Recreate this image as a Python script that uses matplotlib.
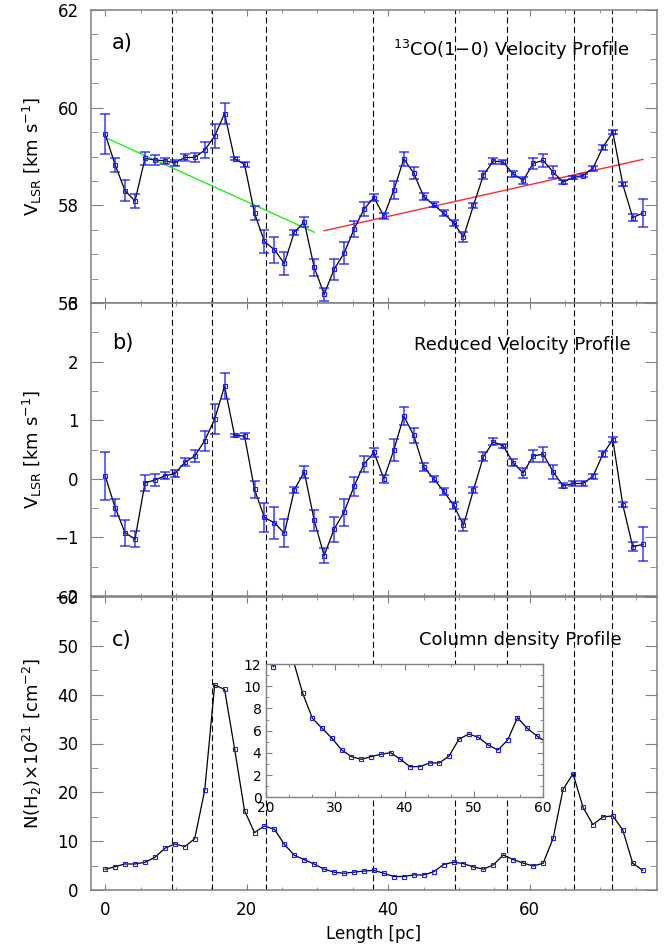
import numpy as np
import matplotlib
matplotlib.use("Agg")
import matplotlib.pyplot as plt
from matplotlib.ticker import MultipleLocator

plt.rcParams["font.family"] = ["DejaVu Sans"]
plt.rcParams["mathtext.fontset"] = "dejavusans"

# position along the filament (pc), 55 samples
length = [0.0, 1.41, 2.81, 4.22, 5.63, 7.04, 8.44, 9.85, 11.26, 12.66, 14.07,
          15.48, 16.88, 18.29, 19.7, 21.11, 22.51, 23.92, 25.33, 26.73, 28.14,
          29.55, 30.95, 32.36, 33.77, 35.18, 36.58, 37.99, 39.4, 40.8, 42.21,
          43.62, 45.02, 46.43, 47.84, 49.25, 50.65, 52.06, 53.47, 54.87, 56.28,
          57.69, 59.09, 60.5, 61.91, 63.32, 64.72, 66.13, 67.54, 68.94, 70.35,
          71.76, 73.16, 74.57, 75.98]

vlsr = [59.46, 58.83, 58.30, 58.09, 58.96, 58.93, 58.91, 58.87, 58.98, 58.98,
        59.13, 59.42, 59.88, 58.95, 58.84, 57.84, 57.26, 57.09, 56.81, 57.45,
        57.66, 56.73, 56.18, 56.69, 57.02, 57.51, 57.92, 58.16, 57.78, 58.31,
        58.95, 58.66, 58.18, 58.01, 57.84, 57.64, 57.35, 58.00, 58.62, 58.91,
        58.88, 58.64, 58.51, 58.86, 58.92, 58.68, 58.48, 58.57, 58.61, 58.76,
        59.19, 59.50, 58.43, 57.75, 57.84]

verr = [0.41, 0.14, 0.22, 0.14, 0.14, 0.11, 0.06, 0.06, 0.07, 0.10,
        0.17, 0.25, 0.22, 0.03, 0.05, 0.14, 0.24, 0.27, 0.24, 0.05,
        0.10, 0.18, 0.13, 0.21, 0.23, 0.16, 0.14, 0.08, 0.07, 0.19,
        0.15, 0.13, 0.07, 0.05, 0.06, 0.06, 0.10, 0.05, 0.08, 0.06,
        0.04, 0.06, 0.08, 0.11, 0.13, 0.12, 0.04, 0.04, 0.04, 0.05,
        0.05, 0.04, 0.04, 0.08, 0.29]

vred = [0.05, -0.49, -0.92, -1.03, -0.07, -0.02, 0.05, 0.09, 0.28, 0.39,
        0.65, 1.02, 1.58, 0.74, 0.73, -0.18, -0.66, -0.75, -0.93, -0.19,
        0.12, -0.71, -1.31, -0.86, -0.57, -0.13, 0.25, 0.45, 0.00, 0.49,
        1.07, 0.74, 0.20, 0.00, -0.21, -0.45, -0.79, -0.19, 0.38, 0.63,
        0.56, 0.27, 0.10, 0.39, 0.42, 0.12, -0.12, -0.08, -0.08, 0.04,
        0.42, 0.67, -0.44, -1.16, -1.12]

nh2 = [4.24, 4.78, 5.33, 5.33, 5.67, 6.70, 8.54, 9.43, 8.88, 10.52,
       20.4, 42.0, 41.06, 28.97, 16.26, 11.75, 13.12, 12.44, 9.36, 7.11,
       6.21, 5.31, 4.26, 3.66, 3.42, 3.66, 3.87, 4.02, 3.42, 2.76,
       2.76, 3.09, 3.09, 3.72, 5.22, 5.70, 5.40, 4.71, 4.26, 5.16,
       7.17, 6.21, 5.52, 4.92, 5.47, 10.6, 20.6, 23.8, 16.95, 13.4,
       14.97, 15.17, 12.3, 5.47, 4.03]

# linear fits to the two velocity segments (end points)
fit1_x = [0.0, 29.55]
fit1_v = [59.39, 57.45]
fit2_x = [30.95, 75.98]
fit2_v = [57.48, 58.94]

# positions of the marked features (pc)
cuts = [9.41, 15.09, 22.75, 37.9, 49.5, 56.75, 66.3, 71.7]

BLUE, GREY = "#1a1aff", "#808080"

fig = plt.figure(figsize=(6.64, 9.49), dpi=100)
L, W, H = 91 / 664, 566 / 664, 293 / 949
ax_a = fig.add_axes([L, 1 - 303 / 949, W, H])
ax_b = fig.add_axes([L, 1 - 596 / 949, W, H])
ax_c = fig.add_axes([L, 1 - 890 / 949, W, H])


def style(ax, ymaj, ymin, xlabels=False, fs=12):
    ax.set_xlim(-2, 78)
    ax.xaxis.set_major_locator(MultipleLocator(20))
    ax.xaxis.set_minor_locator(MultipleLocator(5))
    ax.yaxis.set_major_locator(MultipleLocator(ymaj))
    ax.yaxis.set_minor_locator(MultipleLocator(ymin))
    ax.tick_params(which="both", direction="in", top=True, right=True,
                   color=GREY, labelsize=fs)
    ax.tick_params(axis="x", which="major", length=4.5, pad=8)
    ax.tick_params(axis="x", which="minor", length=2.5)
    ax.tick_params(axis="y", which="major", length=8.5, pad=9)
    ax.tick_params(axis="y", which="minor", length=5)
    if not xlabels:
        ax.tick_params(axis="x", labelbottom=False)
    for s in ax.spines.values():
        s.set_color(GREY)
        s.set_linewidth(1.1)
    for c in cuts:
        ax.axvline(c, color="black", lw=0.8, ls=(0, (5.4, 3)), zorder=1)


def profile(ax, y, err=None):
    ax.plot(length, y, color="black", lw=0.9, zorder=3)
    if err is not None:
        ax.errorbar(length, y, yerr=err, fmt="none", ecolor=BLUE, elinewidth=1.1,
                    capsize=3.5, capthick=1.1, alpha=0.85, zorder=4)
    ax.plot(length, y, ls="none", marker="s", ms=3.3, mfc="none", mec=BLUE,
            mew=0.8, zorder=5)


# a) 13CO velocity
style(ax_a, 2, 0.5)
ax_a.set_ylim(56, 62)
profile(ax_a, vlsr, verr)
ax_a.plot(fit1_x, fit1_v, color="#22ee22", lw=1.0, zorder=2)
ax_a.plot(fit2_x, fit2_v, color="#ff2a2a", lw=1.0, zorder=2)
ax_a.text(0.037, 0.887, "a)", transform=ax_a.transAxes, fontsize=15, va="center")
ax_a.text(0.952, 0.863, r"$^{13}$CO(1$-$0) Velocity Profile", transform=ax_a.transAxes,
          fontsize=13, ha="right", va="center")
ax_a.set_ylabel(r"V$_{\rm LSR}$ [km s$^{-1}$]", fontsize=13)

# b) reduced velocity
style(ax_b, 1, 0.5)
ax_b.set_ylim(-2, 3)
profile(ax_b, vred, verr)
ax_b.text(0.037, 0.862, "b)", transform=ax_b.transAxes, fontsize=15, va="center")
ax_b.text(0.954, 0.857, "Reduced Velocity Profile", transform=ax_b.transAxes,
          fontsize=13, ha="right", va="center")
ax_b.set_ylabel(r"V$_{\rm LSR}$ [km s$^{-1}$]", fontsize=13)

# c) column density
style(ax_c, 10, 5, xlabels=True)
ax_c.set_ylim(0, 60)
profile(ax_c, nh2)
ax_c.text(0.037, 0.853, "c)", transform=ax_c.transAxes, fontsize=15, va="center")
ax_c.text(0.938, 0.853, "Column density Profile", transform=ax_c.transAxes,
          fontsize=13, ha="right", va="center")
ax_c.set_ylabel(r"N(H$_2$)$\times$10$^{21}$ [cm$^{-2}$]", fontsize=13)
ax_c.set_xlabel("Length [pc]", fontsize=12, labelpad=4)

for ax in (ax_a, ax_b, ax_c):
    ax.yaxis.set_label_coords(-0.083, 0.5)

# inset zoom on the column density
ins = fig.add_axes([265.7 / 664, (949 - 797.3) / 949, 277.6 / 664, 133.3 / 949])
ins.set_facecolor("white")
ins.set_zorder(10)
ins.plot(length, nh2, color="black", lw=0.9)
ins.plot(length, nh2, ls="none", marker="s", ms=3.3, mfc="none", mec=BLUE, mew=0.8)
ins.set_xlim(20, 60)
ins.set_ylim(0, 12)
ins.xaxis.set_major_locator(MultipleLocator(10))
ins.xaxis.set_minor_locator(MultipleLocator(10 / 3))
ins.yaxis.set_major_locator(MultipleLocator(2))
ins.yaxis.set_minor_locator(MultipleLocator(1))
ins.tick_params(which="both", direction="in", top=True, right=True, color=GREY,
                labelsize=10)
ins.tick_params(which="major", length=4, pad=3)
ins.tick_params(which="minor", length=2.5)
for s in ins.spines.values():
    s.set_color(GREY)
    s.set_linewidth(1.0)

fig.savefig("out.png", dpi=100)
